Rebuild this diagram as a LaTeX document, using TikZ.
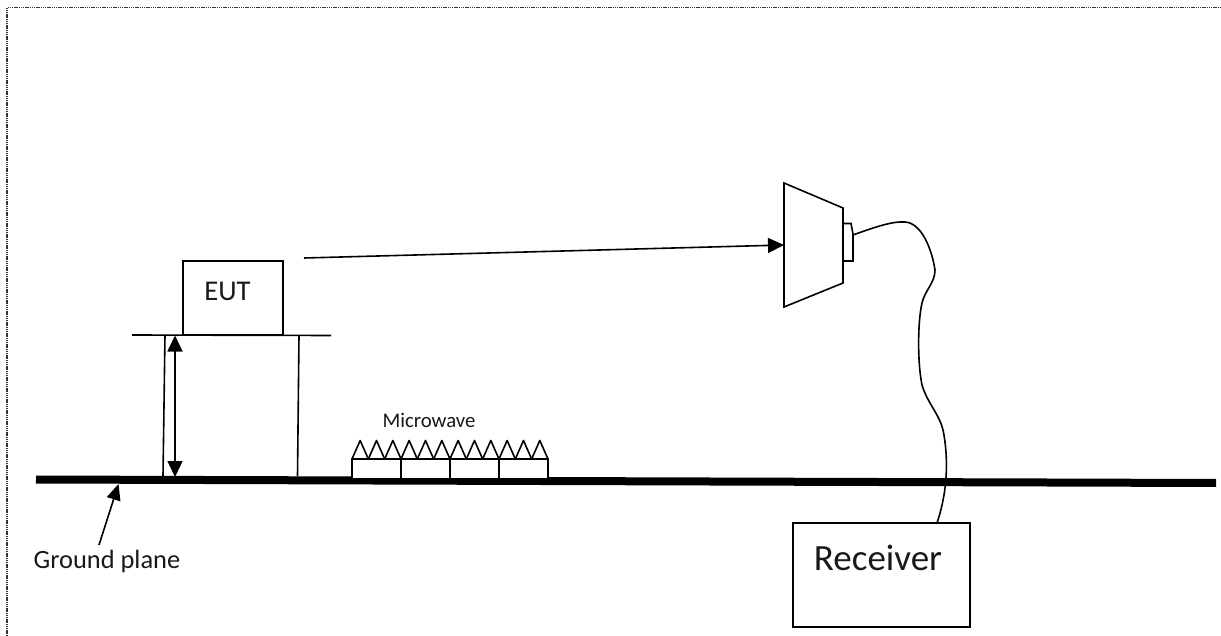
\documentclass[tikz,border=0pt]{standalone}
\usepackage{fontspec}
\setmainfont{Carlito}
\usetikzlibrary{arrows.meta}
\tikzset{
  ln/.style={draw=black,line width=1.6pt},
  bigtip/.style={-{Triangle[length=16pt,width=15pt]}},
  boxnode/.style={draw=black,line width=1.6pt,rectangle,inner sep=0pt,fill=white},
  lbl/.style={inner sep=0pt,text=black!90},
}
\begin{document}
\begin{tikzpicture}[x=1pt,y=-1pt]
\useasboundingbox (0,0) rectangle (1221,636);
\fill[white] (0,0) rectangle (1221,636);
% page border
\coordinate (bl) at (7,636);
\coordinate (tl) at (7,7.5);
\coordinate (tr) at (1221,7.5);
\draw[black!80,line width=1.5pt,dash pattern=on 1.4pt off 0.8pt] (bl) -- (tl) -- (tr);
% ground plane
\coordinate (g1) at (36,479.5);
\coordinate (g2) at (1216,483);
% cable
\coordinate (cs) at (853,235);
\coordinate (rc) at (937,523);
\draw[ln] (cs) .. controls (875,227) and (893,221) .. (905,222)
  .. controls (922,223) and (932,250) .. (935,270)
  .. controls (935,283) and (925,290) .. (922,303)
  .. controls (918,320) and (917,360) .. (922,385)
  .. controls (928,405) and (941,415) .. (944,435)
  .. controls (948,460) and (948,490) .. (937,523);
\draw[line width=8pt] (g1) -- (g2);
% EUT and table
\node[boxnode,minimum width=100pt,minimum height=74pt] (eut) at (233,298) {};
\node[lbl,font=\fontsize{28.6}{32}\selectfont] (euttext) at (227.5,291) {EUT};
\coordinate (t1) at (132,335); \coordinate (t2) at (331,335.5);
\draw[ln] (t1) -- (t2);
\coordinate (ll1) at (165,335); \coordinate (ll2) at (163,476);
\coordinate (rl1) at (299,335.5); \coordinate (rl2) at (297.5,476);
\draw[ln] (ll1) -- (ll2);
\draw[ln] (rl1) -- (rl2);
\coordinate (h1) at (175,335.5); \coordinate (h2) at (175,477);
\draw[ln,{Triangle[length=16pt,width=15pt]}-{Triangle[length=16pt,width=15pt]}] (h1) -- (h2);
% ground plane label
\node[lbl,font=\fontsize{26.4}{30}\selectfont] (gp) at (107,561) {Ground plane};
\coordinate (ga1) at (99,545); \coordinate (ga2) at (118.5,484);
\draw[ln,-{Triangle[length=16pt,width=14pt]}] (ga1) -- (ga2);
% microwave absorbers
\node[lbl,font=\fontsize{20.8}{24}\selectfont] (mw) at (429,420.5) {Microwave};
\foreach \i in {0,1,2,3}{
  \node[boxnode,minimum width=49pt,minimum height=20pt] (ab\i) at ({376.5+49*\i},469) {};
}
\foreach \i in {0,...,11}{
  \draw[ln,line join=round] ({352+16.33*\i},459) -- ({360.17+16.33*\i},440.5) -- ({368.33+16.33*\i},459);
}
% horn antenna
\coordinate (a1) at (784,183); \coordinate (a2) at (843,208);
\coordinate (a3) at (843,283); \coordinate (a4) at (784,307);
\draw[ln,line join=miter,fill=white] (a1) -- (a2) -- (a3) -- (a4) -- cycle;
\coordinate (b1) at (843,223.5); \coordinate (b2) at (851,223.5);
\coordinate (b3) at (853,234); \coordinate (b4) at (853,261); \coordinate (b5) at (843,261);
\draw[ln] (b1) -- (b2) -- (b3) -- (b4) -- (b5);
% arrow to antenna
\coordinate (sig) at (304,258);
\coordinate (ah) at (784,245);
\draw[ln,bigtip] (sig) -- (ah);
% receiver
\node[boxnode,minimum width=177pt,minimum height=104pt] (rx) at (881.5,575) {};
\node[lbl,font=\fontsize{37}{42}\selectfont] (rxt) at (878,558) {Receiver};
\end{tikzpicture}
\end{document}
